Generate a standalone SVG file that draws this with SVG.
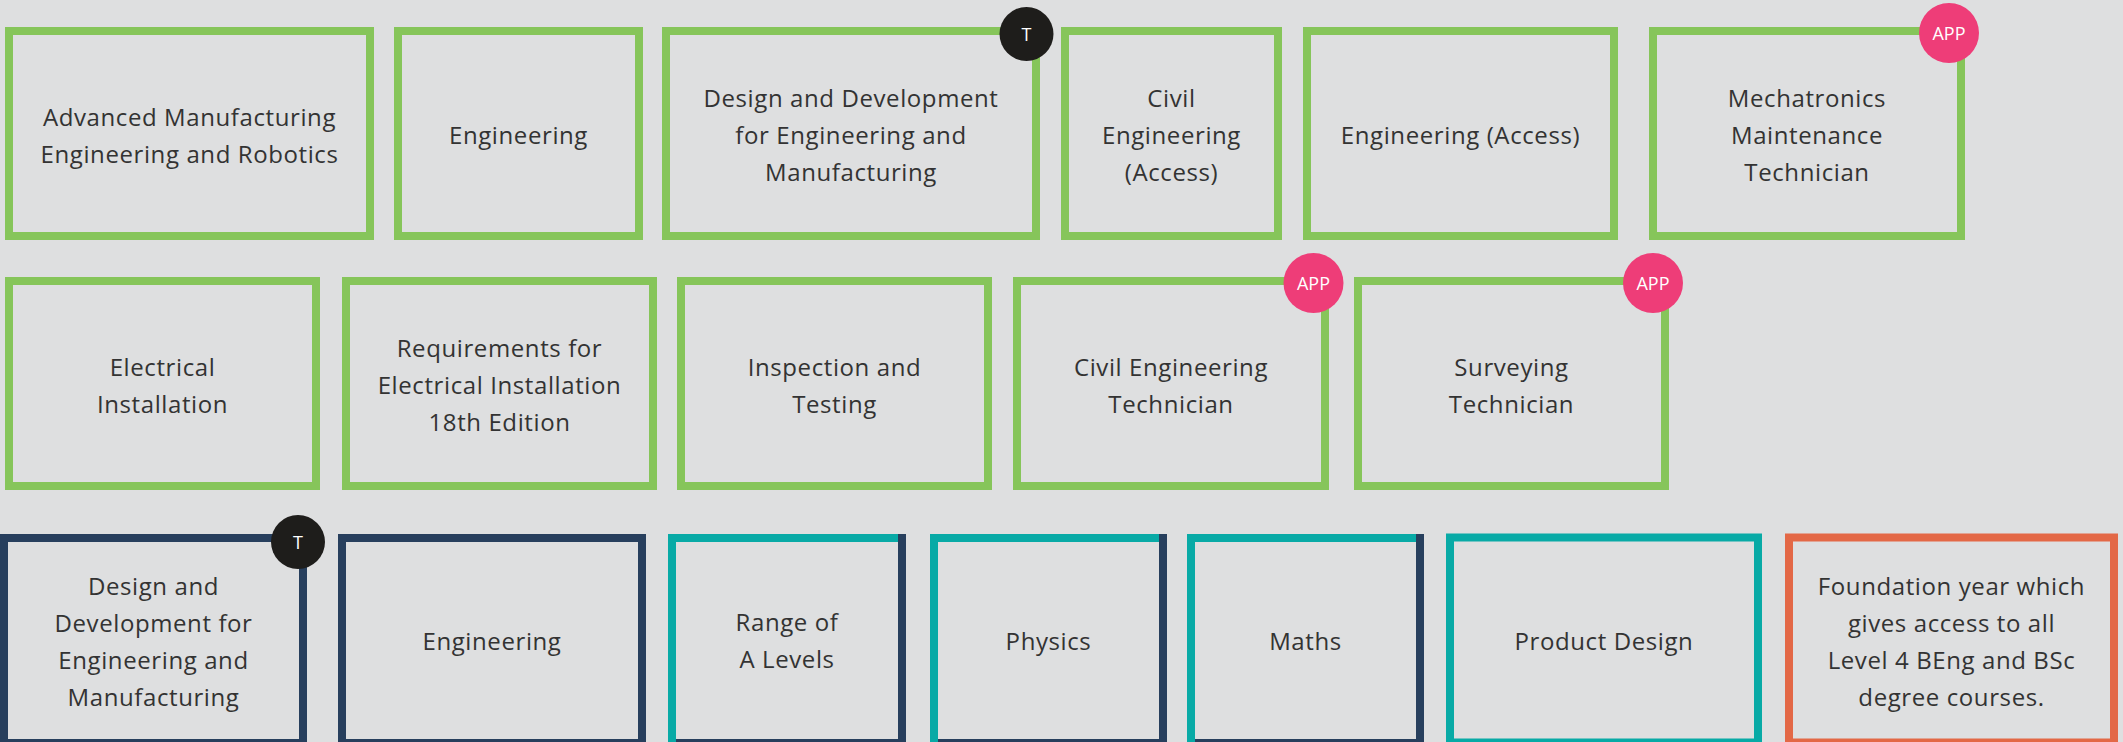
<svg xmlns="http://www.w3.org/2000/svg" width="2123" height="742" viewBox="0 0 2123 742">
<defs>
<style>
.bg{fill:#dedfe0}
.g{fill:none;stroke:#86c55a;stroke-width:8}
.n{fill:none;stroke:#273f5d;stroke-width:8}
.t{fill:none;stroke:#08aaa6;stroke-width:8}
.o{fill:none;stroke:#e36846;stroke-width:8}
.nl{stroke:#273f5d;stroke-width:8;fill:none}
text{font-family:"Open Sans","Liberation Sans",sans-serif;font-size:24px;letter-spacing:0.6px;fill:#333;text-anchor:middle}
.bk{fill:#1e1d1b}
.pk{fill:#ee3d78}
text.bt{fill:#fff;font-size:18px;letter-spacing:0}
</style>
</defs>
<rect class="bg" x="0" y="0" width="2123" height="742"/>
<g id="connectors"/>
<!-- Row 1 -->
<g id="n1"><rect class="g" x="9" y="31" width="361" height="205"/><text x="189.5" y="125.5">Advanced Manufacturing</text><text x="189.5" y="162.5">Engineering and Robotics</text></g>
<g id="n2"><rect class="g" x="398" y="31" width="241" height="205"/><text x="518.5" y="144">Engineering</text></g>
<g id="n3"><rect class="g" x="666" y="31" width="370" height="205"/><text x="851" y="107">Design and Development</text><text x="851" y="144">for Engineering and</text><text x="851" y="181">Manufacturing</text>
<circle class="bk" cx="1026.5" cy="34" r="27"/><text class="bt" x="1026.5" y="40.5">T</text></g>
<g id="n4"><rect class="g" x="1065" y="31" width="213" height="205"/><text x="1171.5" y="107">Civil</text><text x="1171.5" y="144">Engineering</text><text x="1171.5" y="181">(Access)</text></g>
<g id="n5"><rect class="g" x="1307" y="31" width="307" height="205"/><text x="1460.5" y="144">Engineering (Access)</text></g>
<g id="n6"><rect class="g" x="1653" y="31" width="308" height="205"/><text x="1807" y="107">Mechatronics</text><text x="1807" y="144">Maintenance</text><text x="1807" y="181">Technician</text>
<circle class="pk" cx="1949" cy="33" r="30"/><text class="bt" x="1949" y="39.5">APP</text></g>
<!-- Row 2 -->
<g id="n7"><rect class="g" x="9" y="281" width="307" height="205"/><text x="162.5" y="375.5">Electrical</text><text x="162.5" y="412.5">Installation</text></g>
<g id="n8"><rect class="g" x="346" y="281" width="307" height="205"/><text x="499.5" y="357">Requirements for</text><text x="499.5" y="394">Electrical Installation</text><text x="499.5" y="431">18th Edition</text></g>
<g id="n9"><rect class="g" x="681" y="281" width="307" height="205"/><text x="834.5" y="375.5">Inspection and</text><text x="834.5" y="412.5">Testing</text></g>
<g id="n10"><rect class="g" x="1017" y="281" width="308" height="205"/><text x="1171" y="375.5">Civil Engineering</text><text x="1171" y="412.5">Technician</text>
<circle class="pk" cx="1313.5" cy="283" r="30"/><text class="bt" x="1313.5" y="289.5">APP</text></g>
<g id="n11"><rect class="g" x="1358" y="281" width="307" height="205"/><text x="1511.5" y="375.5">Surveying</text><text x="1511.5" y="412.5">Technician</text>
<circle class="pk" cx="1653" cy="283" r="30"/><text class="bt" x="1653" y="289.5">APP</text></g>
<!-- Row 3 -->
<g id="n12"><rect class="n" x="4" y="538" width="299" height="205"/><text x="153.5" y="594.5">Design and</text><text x="153.5" y="631.5">Development for</text><text x="153.5" y="668.5">Engineering and</text><text x="153.5" y="705.5">Manufacturing</text>
<circle class="bk" cx="298" cy="542" r="27"/><text class="bt" x="298" y="548.5">T</text></g>
<g id="n13"><rect class="n" x="342" y="538" width="300" height="205"/><text x="492" y="650">Engineering</text></g>
<g id="n14"><rect class="t" x="672" y="538" width="230" height="205"/><path class="nl" d="M902 534V747M676 743H906"/><text x="787" y="631">Range of</text><text x="787" y="668">A Levels</text></g>
<g id="n15"><rect class="t" x="934" y="538" width="229" height="205"/><path class="nl" d="M1163 534V747M938 743H1167"/><text x="1048.5" y="650">Physics</text></g>
<g id="n16"><rect class="t" x="1191" y="538" width="229" height="205"/><path class="nl" d="M1420 534V747M1195 743H1424"/><text x="1305.5" y="650">Maths</text></g>
<g id="n17"><rect class="t" x="1450" y="537.5" width="308" height="205"/><text x="1604" y="650">Product Design</text></g>
<g id="n18"><rect class="o" x="1789" y="537.5" width="325" height="205"/><text x="1951.5" y="594.5">Foundation year which</text><text x="1951.5" y="631.5">gives access to all</text><text x="1951.5" y="668.5">Level 4 BEng and BSc</text><text x="1951.5" y="705.5">degree courses.</text></g>
</svg>
